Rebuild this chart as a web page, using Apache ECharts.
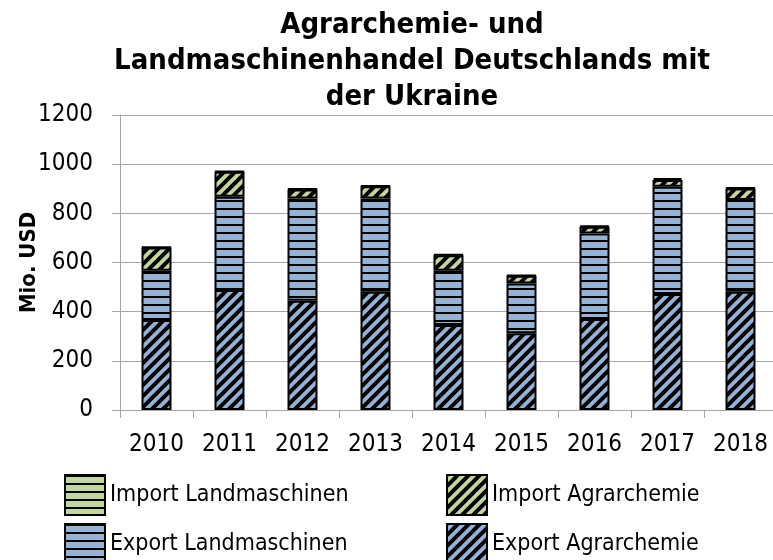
<!DOCTYPE html>
<html>
<head>
<meta charset="utf-8" />
<title>Agrarchemie- und Landmaschinenhandel</title>
<script src="https://cdn.jsdelivr.net/npm/echarts@6/dist/echarts.min.js"></script>
<style>
  html, body { margin: 0; padding: 0; background: #fff; }
  #chartmain { width: 773px; height: 560px; }
</style>
</head>
<body>
<div id="chartmain"></div>
<script type="text/javascript">
// Daten (Mio. USD)
var years = ['2010', '2011', '2012', '2013', '2014', '2015', '2016', '2017', '2018'];
var exportAgrar = [366, 488, 444, 481, 346, 312, 370, 472, 481];
var exportLandm = [200, 379, 416, 379, 220, 203, 348, 436, 373];
var importAgrar = [95, 102, 37, 50, 64, 31, 27, 28, 47];
var importLandm = [3, 3, 3, 3, 3, 3, 5, 8, 4];
var yTicks = [0, 200, 400, 600, 800, 1000, 1200];

var font = "'DejaVu Sans Condensed', 'DejaVu Sans', sans-serif";
var blue = '#95B3D7';
var green = '#C3D69B';

// Muster: horizontale Linien
function hLines(bg) {
  var c = document.createElement('canvas');
  c.width = 8; c.height = 8;
  var ctx = c.getContext('2d');
  ctx.fillStyle = bg;
  ctx.fillRect(0, 0, 8, 8);
  ctx.fillStyle = '#000';
  ctx.fillRect(0, 0, 8, 2);
  return { image: c, repeat: 'repeat' };
}
// Muster: diagonale Streifen
function dLines(bg) {
  var s = 11;
  var c = document.createElement('canvas');
  c.width = s; c.height = s;
  var ctx = c.getContext('2d');
  ctx.fillStyle = bg;
  ctx.fillRect(0, 0, s, s);
  ctx.strokeStyle = '#000';
  ctx.lineWidth = 4;
  ctx.beginPath();
  ctx.moveTo(0, s); ctx.lineTo(s, 0);
  ctx.moveTo(-s / 2, s / 2); ctx.lineTo(s / 2, -s / 2);
  ctx.moveTo(s / 2, s * 1.5); ctx.lineTo(s * 1.5, s / 2);
  ctx.stroke();
  return { image: c, repeat: 'repeat' };
}

function bar(name, data, pattern) {
  return {
    name: name,
    type: 'bar',
    stack: 'total',
    barWidth: 30,
    data: data,
    itemStyle: { color: pattern, borderColor: '#000', borderWidth: 2 }
  };
}

var legendText = { fontFamily: font, fontSize: 23, color: '#000' };

function legendCol(x, names) {
  return {
    orient: 'vertical',
    left: x,
    top: 474,
    height: 100,
    padding: 0,
    itemWidth: 40,
    itemHeight: 40,
    itemGap: 7,
    icon: 'rect',
    data: names,
    textStyle: legendText
  };
}

var option = {
  animation: false,
  title: {
    text: 'Agrarchemie- und\nLandmaschinenhandel Deutschlands mit\nder Ukraine',
    left: 407,
    top: 2,
    textAlign: 'center',
    textStyle: { fontFamily: font, fontSize: 29, fontWeight: 'bold', lineHeight: 36, color: '#000' }
  },
  legend: [
    legendCol(64, ['Import Landmaschinen', 'Export Landmaschinen']),
    legendCol(446, ['Import Agrarchemie', 'Export Agrarchemie'])
  ],
  grid: { left: 120, top: 115, width: 657, height: 295, containLabel: false, outerBoundsMode: 'none' },
  xAxis: {
    type: 'category',
    data: years,
    axisLine: { lineStyle: { color: '#A6A6A6', width: 1 } },
    axisTick: { show: true, length: 8, lineStyle: { color: '#A6A6A6' } },
    axisLabel: { fontFamily: font, fontSize: 24, color: '#000', margin: 23 }
  },
  yAxis: {
    type: 'value',
    min: yTicks[0],
    max: yTicks[yTicks.length - 1],
    interval: 200,
    name: 'Mio. USD',
    nameLocation: 'middle',
    nameRotate: 90,
    nameGap: 80,
    nameMoveOverlap: false,
    nameTextStyle: { fontFamily: font, fontSize: 22, fontWeight: 'bold', color: '#000' },
    axisLine: { show: true, lineStyle: { color: '#A6A6A6', width: 1 } },
    axisTick: { show: true, length: 8, lineStyle: { color: '#A6A6A6' } },
    axisLabel: { fontFamily: font, fontSize: 24, color: '#000', margin: 27, formatter: function (v) { return String(v); } },
    splitLine: { lineStyle: { color: '#A6A6A6', width: 1 } }
  },
  series: [
    bar('Export Agrarchemie', exportAgrar, dLines(blue)),
    bar('Export Landmaschinen', exportLandm, hLines(blue)),
    bar('Import Agrarchemie', importAgrar, dLines(green)),
    bar('Import Landmaschinen', importLandm, hLines(green))
  ]
};

var myChart = echarts.init(document.getElementById('chartmain'));
myChart.setOption(option);
</script>
</body>
</html>
